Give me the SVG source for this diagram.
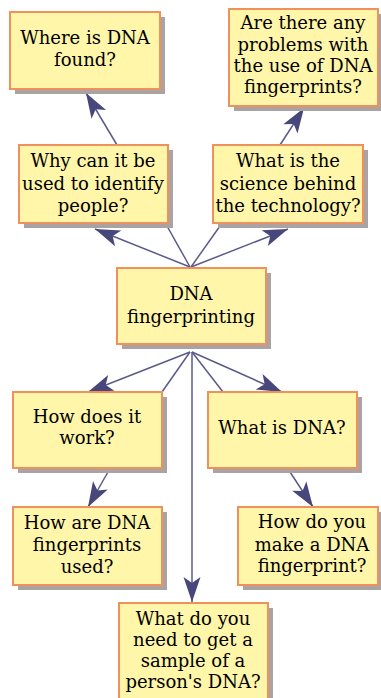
<svg xmlns="http://www.w3.org/2000/svg" width="381" height="698" viewBox="0 0 381 698">
  <style>
    .shadow { fill: #aaa3a3; }
    .box { fill: #fff6aa; stroke: #f0905a; stroke-width: 2; }
    .label { font-family: "DejaVu Serif", "Liberation Serif", serif; font-size: 18px; fill: #000000; text-anchor: middle; }
    .link { stroke: #5a5a8c; stroke-width: 1.5; fill: none; }
    .arrow { stroke: #5a5a8c; stroke-width: 1.5; fill: none; marker-end: url(#dart); }
  </style>
  <defs>
    <marker id="dart" markerUnits="userSpaceOnUse" markerWidth="30" markerHeight="24" viewBox="-28 -12 30 24" refX="0" refY="0" orient="auto">
      <path d="M0,0 L-25,-8.5 L-19,0 L-25,8.5 Z" fill="#47477c"/>
    </marker>
  </defs>
  <rect width="381" height="698" fill="#ffffff"/>

  <g id="connectors">
    <line class="arrow" x1="117" y1="145" x2="86" y2="93"/>
    <line class="arrow" x1="280" y1="145" x2="304" y2="108"/>
    <line class="arrow" x1="190" y1="267" x2="95" y2="229"/>
    <line class="link" x1="190" y1="267" x2="167" y2="226"/>
    <line class="link" x1="191" y1="267" x2="220" y2="226"/>
    <line class="arrow" x1="191" y1="267" x2="288" y2="229"/>
    <line class="arrow" x1="190" y1="352" x2="88" y2="392"/>
    <line class="link" x1="190" y1="352" x2="162" y2="392"/>
    <line class="arrow" x1="192" y1="352" x2="192" y2="602"/>
    <line class="link" x1="192" y1="352" x2="223" y2="392"/>
    <line class="arrow" x1="192" y1="352" x2="282" y2="392"/>
    <line class="arrow" x1="108" y1="472" x2="88" y2="507"/>
    <line class="arrow" x1="290" y1="472" x2="313" y2="507"/>
  </g>

  <g id="where-found">
    <rect class="shadow" x="15" y="17" width="150" height="77"/>
    <rect class="box" x="10" y="12" width="150" height="77"/>
    <text class="label" x="85" y="44">Where is DNA</text>
    <text class="label" x="85" y="66">found?</text>
  </g>

  <g id="problems">
    <rect class="shadow" x="234" y="14" width="149" height="97"/>
    <rect class="box" x="229" y="9" width="149" height="97"/>
    <text class="label" x="303" y="29">Are there any</text>
    <text class="label" x="303" y="51">problems with</text>
    <text class="label" x="303" y="72">the use of DNA</text>
    <text class="label" x="303" y="93">fingerprints?</text>
  </g>

  <g id="why-identify">
    <rect class="shadow" x="24" y="150" width="149" height="78"/>
    <rect class="box" x="19" y="145" width="149" height="78"/>
    <text class="label" x="93" y="167">Why can it be</text>
    <text class="label" x="93" y="190">used to identify</text>
    <text class="label" x="93" y="212">people?</text>
  </g>

  <g id="science">
    <rect class="shadow" x="218" y="150" width="150" height="78"/>
    <rect class="box" x="213" y="145" width="150" height="78"/>
    <text class="label" x="288" y="167">What is the</text>
    <text class="label" x="288" y="190">science behind</text>
    <text class="label" x="288" y="212">the technology?</text>
  </g>

  <g id="dna-fingerprinting">
    <rect class="shadow" x="122" y="273" width="149" height="76"/>
    <rect class="box" x="117" y="268" width="149" height="76"/>
    <text class="label" x="191" y="300">DNA</text>
    <text class="label" x="191" y="323">fingerprinting</text>
  </g>

  <g id="how-work">
    <rect class="shadow" x="18" y="397" width="149" height="76"/>
    <rect class="box" x="13" y="392" width="149" height="76"/>
    <text class="label" x="87" y="423">How does it</text>
    <text class="label" x="87" y="444">work?</text>
  </g>

  <g id="what-dna">
    <rect class="shadow" x="213" y="397" width="149" height="76"/>
    <rect class="box" x="208" y="392" width="149" height="76"/>
    <text class="label" x="282" y="434">What is DNA?</text>
  </g>

  <g id="how-used">
    <rect class="shadow" x="18" y="512" width="149" height="78"/>
    <rect class="box" x="13" y="507" width="149" height="78"/>
    <text class="label" x="87" y="529">How are DNA</text>
    <text class="label" x="87" y="551">fingerprints</text>
    <text class="label" x="87" y="573">used?</text>
  </g>

  <g id="how-make">
    <rect class="shadow" x="243" y="512" width="140" height="78"/>
    <rect class="box" x="238" y="507" width="140" height="78"/>
    <text class="label" x="312" y="528">How do you</text>
    <text class="label" x="312" y="551">make a DNA</text>
    <text class="label" x="312" y="572">fingerprint?</text>
  </g>

  <g id="sample">
    <rect class="shadow" x="124" y="608" width="149" height="100"/>
    <rect class="box" x="119" y="603" width="149" height="100"/>
    <text class="label" x="193" y="625">What do you</text>
    <text class="label" x="193" y="646">need to get a</text>
    <text class="label" x="193" y="667">sample of a</text>
    <text class="label" x="193" y="688">person's DNA?</text>
  </g>
</svg>
